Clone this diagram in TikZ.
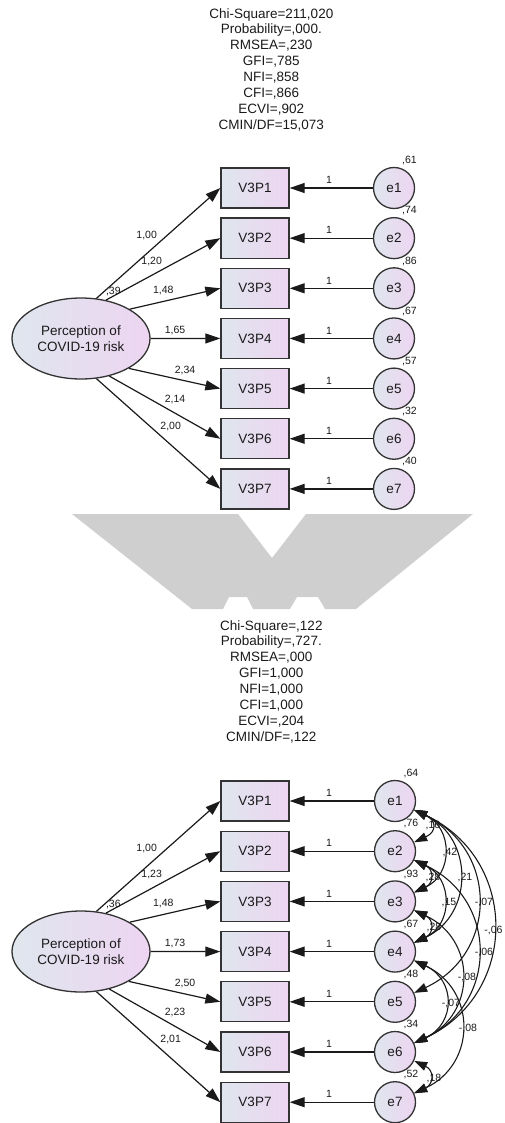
\documentclass[tikz,border=0pt]{standalone}
\usepackage{fontspec}
\setmainfont{Liberation Sans}
\usetikzlibrary{arrows.meta,shapes.geometric}

\definecolor{fillL}{HTML}{DFE6EE}
\definecolor{fillR}{HTML}{EDD5F1}
\definecolor{edgecol}{HTML}{333333}
\definecolor{inkcol}{HTML}{1A1A1A}
\definecolor{wmark}{HTML}{CFCFCF}

\tikzset{
  obs/.style={draw=edgecol, line width=1.3pt, minimum width=68pt, minimum height=40pt,
    inner sep=0pt, left color=fillL, right color=fillR, text=inkcol,
    font=\fontsize{13.5}{15.7}\selectfont},
  err/.style={circle, draw=edgecol, line width=1.3pt, minimum size=41pt, inner sep=0pt,
    left color=fillL, right color=fillR, text=inkcol,
    font=\fontsize{13.5}{15.7}\selectfont},
  lat/.style={ellipse, draw=edgecol, line width=1.3pt, minimum width=138pt,
    minimum height=81pt, inner sep=0pt, align=center, left color=fillL,
    right color=fillR, text=inkcol, font=\fontsize{13.5}{15.7}\selectfont},
  regpath/.style={-{Triangle[length=15pt,width=10pt]}, line width=1.2pt, draw=inkcol},
  covpath/.style={{Triangle[length=13pt,width=9pt]}-{Triangle[length=13pt,width=9pt]},
    line width=1.1pt, draw=inkcol},
  lbl/.style={font=\fontsize{10.5}{12}\selectfont, inner sep=0pt, anchor=base,
    yshift=-3.7pt, text=inkcol},
  stats/.style={align=center, font=\fontsize{13.5}{15.9}\selectfont, inner sep=0pt,
    anchor=north, text=inkcol}
}

\begin{document}
\begin{tikzpicture}[x=1pt,y=1pt]
\useasboundingbox (0,0) rectangle (504,-1123);

% ---------- first model ----------
\node[stats] (statsA) at (271.3,-8.1) {Chi-Square=211,020\\Probability=,000.\\RMSEA=,230\\GFI=,785\\NFI=,858\\CFI=,866\\ECVI=,902\\CMIN/DF=15,073};

\node[lat] (A-f) at (81,-338.5) {Perception of\\COVID-19 risk};
\foreach \i in {1,...,7} {
  \pgfmathsetmacro\yy{-188-50.15*(\i-1)}
  \node[obs] (A-v\i) at (255,\yy) {V3P\i};
  \node[err] (A-e\i) at (394,\yy) {e\i};
  \draw[regpath] (A-e\i) -- (A-v\i);
  \node[lbl] at (329,\yy+8) {1};
}
\foreach \i/\a in {1/69,2/57,3/31,4/0,5/-32.5,6/-53,7/-69}
  \draw[regpath] (A-f.\a) -- (A-v\i.west);

\node[lbl] at (146.7,-235) {1,00};
\node[lbl] at (151.7,-260.7) {1,20};
\node[lbl] at (113.3,-291) {,39};
\node[lbl] at (163.3,-289.3) {1,48};
\node[lbl] at (175,-330) {1,65};
\node[lbl] at (185,-370) {2,34};
\node[lbl] at (175,-399) {2,14};
\node[lbl] at (170.7,-425.3) {2,00};

\foreach \i/\v in {1/61,2/74,3/86,4/67,5/57,6/32,7/40}
  \node[lbl] at (409.5,-160-50.15*\i+50.15) {,\v};

% ---------- grey band between the two models ----------
\fill[wmark] (72,-514) -- (238,-514) -- (272,-558) -- (306,-514) -- (473,-514)
  -- (356,-609) -- (325,-609) -- (318,-597) -- (297,-597) -- (290,-609)
  -- (253,-609) -- (247,-597) -- (229,-597) -- (223,-609) -- (192,-609) -- cycle;

% ---------- second model ----------
\node[stats] (statsB) at (271.3,-620.1) {Chi-Square=,122\\Probability=,727.\\RMSEA=,000\\GFI=1,000\\NFI=1,000\\CFI=1,000\\ECVI=,204\\CMIN/DF=,122};

\begin{scope}[yshift=-613pt]
\node[lat] (B-f) at (81,-338.5) {Perception of\\COVID-19 risk};
\foreach \i in {1,...,7} {
  \pgfmathsetmacro\yy{-188-50.2*(\i-1)}
  \node[obs] (B-v\i) at (255,\yy) {V3P\i};
  \node[err] (B-e\i) at (395,\yy) {e\i};
  \draw[regpath] (B-e\i) -- (B-v\i);
  \node[lbl] at (329,\yy+8) {1};
}
\foreach \i/\a in {1/69,2/57,3/31,4/0,5/-32.5,6/-53,7/-69}
  \draw[regpath] (B-f.\a) -- (B-v\i.west);

\node[lbl] at (146.7,-235) {1,00};
\node[lbl] at (151.7,-260.7) {1,23};
\node[lbl] at (113.3,-291) {,36};
\node[lbl] at (163.3,-289.3) {1,48};
\node[lbl] at (175,-330) {1,73};
\node[lbl] at (185,-370) {2,50};
\node[lbl] at (175,-399) {2,23};
\node[lbl] at (170.7,-425.3) {2,01};

\foreach \i/\v in {1/64,2/76,3/93,4/67,5/48,6/34,7/52}
  \node[lbl] at (411,-160-50.2*\i+50.2) {,\v};
\end{scope}

% covariances between the error terms of the second model
\foreach \p/\q/\c in {1/2/25, 1/3/43, 1/4/66, 1/5/93, 1/6/116, 2/3/22, 2/4/43,
                      3/4/22, 2/6/93, 3/6/69, 4/6/46, 4/7/69, 6/7/22}
  \draw[covpath] (B-e\p.-25) .. controls +(-25:\c) and +(25:\c) .. (B-e\q.25);

\node[lbl] at (433,-825) {,16};
\node[lbl] at (450,-852) {,42};
\node[lbl] at (433,-877) {,28};
\node[lbl] at (465,-877) {,21};
\node[lbl] at (449,-902) {,15};
\node[lbl] at (484,-902) {-,07};
\node[lbl] at (434,-927) {,28};
\node[lbl] at (493.5,-930) {-,06};
\node[lbl] at (484,-952) {-,06};
\node[lbl] at (467,-977) {-,08};
\node[lbl] at (451,-1003) {-,07};
\node[lbl] at (468,-1028) {-,08};
\node[lbl] at (434,-1078) {,18};
\end{tikzpicture}
\end{document}
